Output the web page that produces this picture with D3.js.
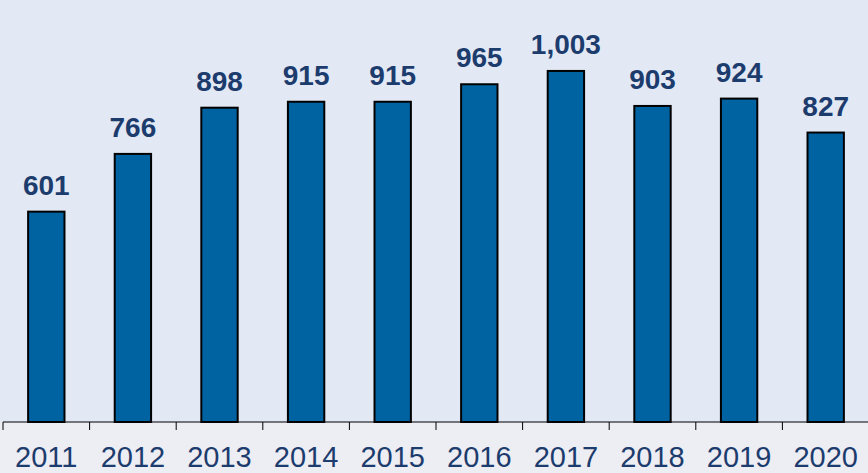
<!DOCTYPE html>
<html>
<head>
<meta charset="utf-8">
<script src="https://cdn.jsdelivr.net/npm/d3@7"></script>
<style>
  body { margin: 0; background: #ededf4; }
  svg { display: block; }
</style>
</head>
<body>
<div id="chart"></div>
<script>
// values
var years = ["2011", "2012", "2013", "2014", "2015", "2016", "2017", "2018", "2019", "2020"];
var counts = [601, 766, 898, 915, 915, 965, 1003, 903, 924, 827];

var width = 868, height = 473;
var baseY = 422;

var svg = d3.select("#chart").append("svg")
    .attr("width", width)
    .attr("height", height);

// plot background
svg.append("rect")
    .attr("x", 0).attr("y", 0)
    .attr("width", width).attr("height", baseY)
    .attr("fill", "#e3e9f4");

var x = d3.scaleBand()
    .domain(years)
    .range([3, 869])
    .paddingInner(0.58)
    .paddingOuter(0.29);

var y = d3.scaleLinear()
    .domain([0, 1200])
    .range([baseY, 2]);

var data = years.map(function(d, i) { return {year: d, value: counts[i]}; });

svg.selectAll("rect.bar")
    .data(data)
    .enter()
    .append("rect")
    .attr("class", "bar")
    .attr("x", function(d) { return x(d.year); })
    .attr("y", function(d) { return y(d.value); })
    .attr("width", x.bandwidth())
    .attr("height", function(d) { return baseY - y(d.value); })
    .attr("fill", "#0063a1")
    .attr("stroke", "#000")
    .attr("stroke-width", 2);

svg.selectAll("text.val")
    .data(data)
    .enter()
    .append("text")
    .attr("class", "val")
    .attr("x", function(d) { return x(d.year) + x.bandwidth() / 2; })
    .attr("y", function(d) { return y(d.value) - 17; })
    .attr("text-anchor", "middle")
    .attr("font-family", "Liberation Sans, Arial, sans-serif")
    .attr("font-weight", "bold")
    .attr("font-size", 28)
    .attr("fill", "#1d3c6e")
    .text(function(d) { return d3.format(",")(d.value); });

// x axis: ticks between categories
var step = x.step();
var xAxis = svg.append("g").attr("transform", "translate(0," + baseY + ")");
xAxis.append("line")
    .attr("x1", 3).attr("x2", width)
    .attr("stroke", "#000").attr("stroke-width", 1.2);
xAxis.selectAll("line.tick")
    .data(d3.range(years.length + 1))
    .enter()
    .append("line")
    .attr("class", "tick")
    .attr("x1", function(i) { return 3 + i * step; })
    .attr("x2", function(i) { return 3 + i * step; })
    .attr("y1", 0).attr("y2", 8)
    .attr("stroke", "#000").attr("stroke-width", 1);
xAxis.selectAll("text")
    .data(years)
    .enter()
    .append("text")
    .attr("x", function(d) { return x(d) + x.bandwidth() / 2; })
    .attr("y", 45)
    .attr("text-anchor", "middle")
    .attr("font-family", "Liberation Sans, Arial, sans-serif")
    .attr("font-size", 29)
    .attr("fill", "#1d3c6e")
    .text(function(d) { return d; });
</script>
</body>
</html>
